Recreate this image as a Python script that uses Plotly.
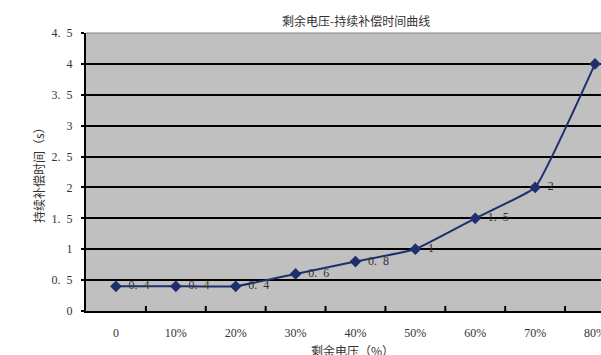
import plotly.graph_objects as go

categories = ["0", "10%", "20%", "30%", "40%", "50%", "60%", "70%", "80%"]
values = [0.4, 0.4, 0.4, 0.6, 0.8, 1, 1.5, 2, 4]
y_ticks = [0, 0.5, 1, 1.5, 2, 2.5, 3, 3.5, 4, 4.5]
y_tick_labels = ["0", "0.\u20025", "1", "1.\u20025", "2", "2.\u20025", "3", "3.\u20025", "4", "4.\u20025"]
title = "剩余电压-持续补偿时间曲线"
x_title = "剩余电压（%）"
y_title = "持续补偿时间（s）"

W, H = 601, 355
L, R, T, B = 86, 0, 33, 44
navy = "#1F2F6E"
serif = "Liberation Serif, DejaVu Serif, serif"
cjk = "Noto Sans CJK SC"
txt = "#333333"

labels = ["  " + str(v).replace(".", ".\u2002") for v in values]

fig = go.Figure()
fig.add_trace(go.Scatter(
    x=list(range(len(categories))), y=values,
    mode="lines+markers+text",
    line=dict(color=navy, width=2, shape="spline", smoothing=0.3),
    marker=dict(symbol="diamond", size=9, color=navy),
    text=labels, textposition="middle right",
    textfont=dict(family=serif, size=12, color=txt),
    cliponaxis=False, showlegend=False,
))

fig.update_layout(
    width=W, height=H,
    margin=dict(l=L, r=R, t=T, b=B, autoexpand=False),
    paper_bgcolor="white", plot_bgcolor="#C0C0C0",
    showlegend=False,
)
fig.update_xaxes(
    range=[-0.5, 8.1],
    tickmode="array", tickvals=list(range(len(categories))), ticktext=categories,
    tickfont=dict(family=serif, size=12, color=txt),
    showgrid=False, zeroline=False,
    showline=True, linecolor="black", linewidth=2,
    ticks="", ticklabelstandoff=10, ticklabeloverflow="allow",
    automargin=False,
)
fig.update_layout(shapes=[
    dict(type="line", xref="x", yref="paper", x0=i + 0.5, x1=i + 0.5, y0=0, y1=0.018,
         line=dict(color="black", width=2))
    for i in range(len(categories) - 1)
] + [
    dict(type="line", xref="paper", yref="paper", x0=0, x1=1, y0=1, y1=1,
         line=dict(color="#808080", width=1))
])
fig.update_yaxes(
    range=[0, 4.5],
    tickmode="array", tickvals=y_ticks, ticktext=y_tick_labels,
    tickfont=dict(family=serif, size=12, color=txt),
    showgrid=True, gridcolor="black", gridwidth=2,
    zeroline=False,
    showline=True, linecolor="black", linewidth=2,
    ticks="outside", ticklen=3, tickcolor="black", tickwidth=2,
    ticklabelstandoff=6, automargin=False,
)

pw = W - L - R
ph = H - T - B
fig.add_annotation(text=title, xref="paper", yref="paper",
                   x=(356 - L) / pw, y=1 + (T - 20) / ph, showarrow=False,
                   xanchor="center", yanchor="middle",
                   font=dict(family=cjk, size=12, color=txt))
fig.add_annotation(text=y_title, xref="paper", yref="paper",
                   x=(38 - L) / pw, y=0.5, textangle=-90, showarrow=False,
                   xanchor="center", yanchor="middle",
                   font=dict(family=cjk, size=12, color=txt))
fig.add_annotation(text=x_title, xref="paper", yref="paper",
                   x=(352 - L) / pw, y=-(350 - (H - B)) / ph, showarrow=False,
                   xanchor="center", yanchor="middle",
                   font=dict(family=cjk, size=12, color=txt))

fig.write_html("out.html")
